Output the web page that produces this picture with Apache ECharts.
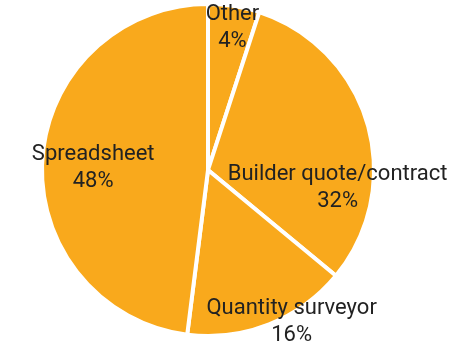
<!DOCTYPE html>
<html>
<head>
<meta charset="utf-8">
<script src="https://cdn.jsdelivr.net/npm/echarts@6/dist/echarts.min.js"></script>
<style>
  html, body { margin: 0; padding: 0; background: #fff; }
  #container { width: 462px; height: 352px; }
</style>
</head>
<body>
<div id="container"></div>
<script>
// slice names, in clockwise order from 12 o'clock
var categories = ['Other', 'Builder quote/contract', 'Quantity surveyor', 'Spreadsheet'];
// slice sizes as drawn (share of the circle)
var values = [5, 31, 16, 48];
// percentages printed on the chart
var shareLabels = ['4%', '32%', '16%', '48%'];

// nudges from the default inside label spot
var labelShift = [[11, -57], [47, 42], [52, 72], [-29, 3]];

var pieData = categories.map(function (name, i) {
    return { name: name, value: values[i] };
});

var option = {
    animation: false,
    series: [{
        type: 'pie',
        center: [208, 170],
        radius: 166,
        startAngle: 90,
        clockwise: true,
        data: pieData,
        itemStyle: {
            color: '#F9A91C',
            borderColor: '#ffffff',
            borderWidth: 4
        },
        label: {
            show: true,
            position: 'inside',
            fontFamily: 'Roboto',
            fontSize: 22,
            lineHeight: 27,
            color: '#222222',
            align: 'center',
            formatter: function (p) {
                return p.name + '\n' + shareLabels[p.dataIndex];
            }
        },
        labelLine: { show: false },
        labelLayout: function (p) {
            return { dx: labelShift[p.dataIndex][0], dy: labelShift[p.dataIndex][1] };
        },
        emphasis: { disabled: true }
    }]
};

var myChart = echarts.init(document.getElementById('container'));
myChart.setOption(option);
</script>
</body>
</html>
